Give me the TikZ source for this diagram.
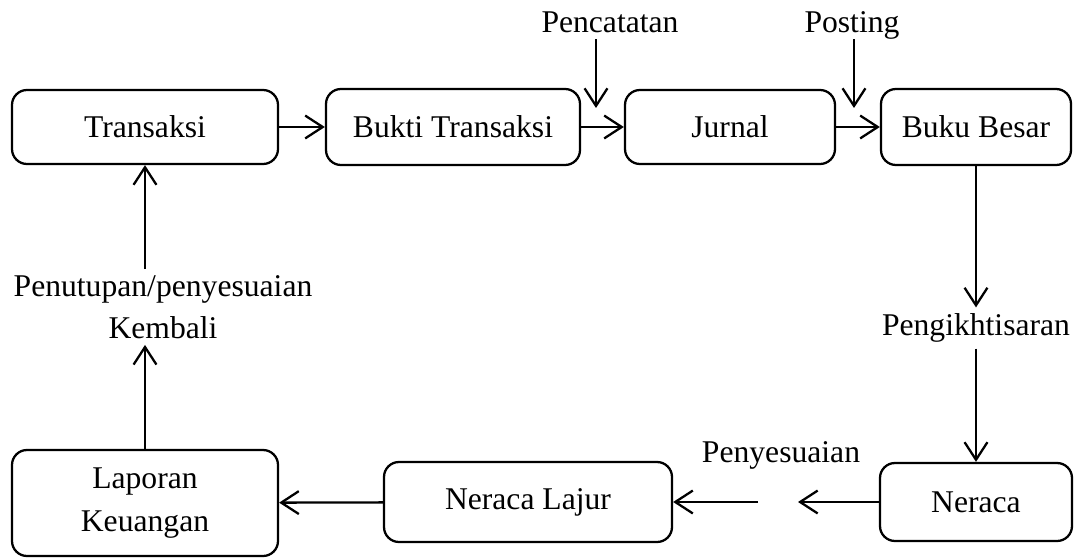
\documentclass[tikz,border=0pt]{standalone}
\usepackage{fontspec}
\setmainfont{Liberation Serif}
\usetikzlibrary{arrows.meta}
\tikzstyle{cycle box}=[draw, rounded corners=0.3cm, align=center, inner sep=0,
	line width=1.3pt]
\tikzstyle{sarrow}=[-{Straight Barb[length=10pt, width=13pt, line width=1.3pt]}, line width=1.3pt]
\tikzstyle{slabel}=[align=center]

\begin{document}
\begin{tikzpicture}[font=\fontsize{18}{24}\selectfont]
            \useasboundingbox (0,0) rectangle (21.52,11.16);
            % top row
            \node[cycle box, minimum width=5.32cm, minimum height=1.48cm] (transaksi) at (2.90,8.62) {Transaksi};
            \node[cycle box, minimum width=5.08cm, minimum height=1.52cm] (bukti) at (9.06,8.62) {Bukti Transaksi};
            \node[cycle box, minimum width=4.20cm, minimum height=1.48cm] (jurnal) at (14.60,8.62) {Jurnal};
            \node[cycle box, minimum width=3.80cm, minimum height=1.52cm] (bukubesar) at (19.52,8.62) {Buku Besar};
            % bottom row
            \node[cycle box, minimum width=3.84cm, minimum height=1.56cm] (neraca) at (19.52,1.12) {Neraca};
            \node[cycle box, minimum width=5.76cm, minimum height=1.60cm] (lajur) at (10.56,1.12) {Neraca Lajur};
            \node[cycle box, minimum width=5.32cm, minimum height=2.12cm] (laporan) at (2.90,1.10) {Laporan\\Keuangan};
            % labels
            \node[slabel, text depth=0pt, anchor=base] (pencatatan) at (12.20,10.50) {Pencatatan};
            \node[slabel, text depth=0pt, anchor=base] (posting) at (17.04,10.50) {Posting};
            \node[slabel] (ikhtisar) at (19.52,4.60) {Pengikhtisaran};
            \node[slabel] (penyesuaian) at (15.62,2.06) {Penyesuaian};
            \node[slabel] (penutupan) at (3.26,5.02) {Penutupan/penyesuaian\\Kembali};
            \coordinate (pc) at (11.92,9.00);
            \coordinate (ps) at (17.08,9.00);
            \coordinate (gapR) at (15.96,1.12);
            \coordinate (gapL) at (15.16,1.12);
            % connectors
            \draw[sarrow] (transaksi) -- (bukti);
            \draw[sarrow] (bukti) -- (jurnal);
            \draw[sarrow] (jurnal) -- (bukubesar);
            \draw[sarrow] (pencatatan.south -| pc) -- (pc);
            \draw[sarrow] (posting.south -| ps) -- (ps);
            \draw[sarrow] (bukubesar) -- (ikhtisar);
            \draw[sarrow] (ikhtisar) -- (neraca);
            \draw[sarrow] (neraca) -- (gapR);
            \draw[sarrow] (gapL) -- (lajur);
            \draw[sarrow] (lajur) -- (laporan);
            \draw[sarrow] (laporan) -- (laporan |- penutupan.south);
            \draw[sarrow] (laporan |- penutupan.north) -- (transaksi);
        \end{tikzpicture}
\end{document}
